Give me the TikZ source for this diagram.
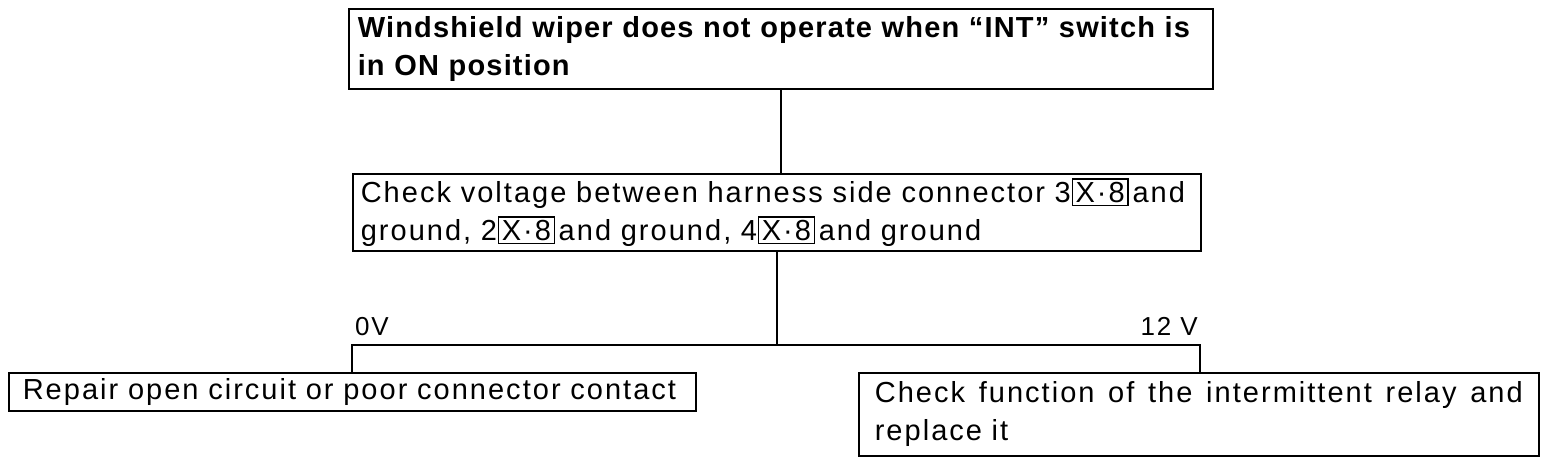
\documentclass[tikz,border=0pt]{standalone}
\usepackage{fontspec}
\setmainfont{Liberation Sans}[LetterSpace=7,BoldFeatures={LetterSpace=4}]
\newcommand\xeight{\kern1pt{\setlength\fboxsep{2.5pt}\setlength\fboxrule{1.2pt}\fbox{X·8}}\kern4pt}
\begin{document}
\begin{tikzpicture}[x=1pt,y=-1pt,
  box/.style={draw, line width=1.6pt, anchor=north west, align=left,
    font=\fontsize{29}{38}\selectfont, inner ysep=0pt},
  lbl/.style={font=\fontsize{26}{30}\selectfont, inner sep=0pt},
  wire/.style={line width=1.6pt}]
\useasboundingbox (0,0) rectangle (1568,464);
\node[box, font=\fontsize{29}{38}\selectfont\bfseries, inner xsep=9pt,
  text width=846pt, minimum width=864pt, minimum height=80pt] (top) at (348,8)
  {Windshield wiper does not operate when “INT” switch is\\in ON position};
\node[box, inner xsep=8pt, text width=832pt, minimum width=848pt,
  minimum height=77pt] (check) at (352,173)
  {Check voltage between harness side connector 3\xeight and\\ground, 2\xeight and ground, 4\xeight and ground};
\node[box, inner xsep=14pt, text width=659pt, minimum width=687pt,
  minimum height=38pt] (repair) at (8,372)
  {Repair open circuit or poor connector contact};
\node[box, inner xsep=16pt, text width=648pt, minimum width=680pt,
  minimum height=83pt] (relay) at (858,372)
  {\makebox[648pt][s]{Check\hfill function\hfill of\hfill the\hfill intermittent\hfill relay\hfill and}\\replace it};
\coordinate (L) at (352,345);
\coordinate (R) at (1200,345);
\node[lbl, anchor=south west] (zv) at (355,336) {0V};
\node[lbl, anchor=south east] (tv) at (1198,336) {12 V};
\draw[wire] (top.south) -- (top.south |- check.north);
\draw[wire] (check.south) -- (check.south |- L);
\draw[wire] (L |- repair.north) -- (L) -- (R) -- (R |- relay.north);
\end{tikzpicture}
\end{document}
